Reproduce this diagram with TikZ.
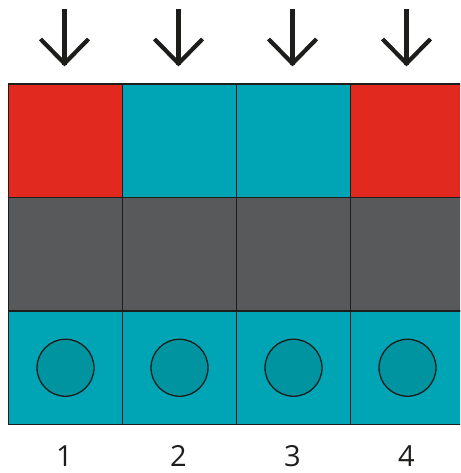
\documentclass[tikz,border=0pt]{standalone}
\usepackage{fontspec}
\setmainfont{Open Sans}
\definecolor{cred}{HTML}{E2291F}
\definecolor{cteal}{HTML}{00A5B5}
\definecolor{cgrey}{HTML}{58595B}
\definecolor{cdot}{HTML}{0093A0}
\definecolor{cline}{HTML}{1D1D1B}
\tikzset{
  cell/.style={draw=cline, line width=1.3pt, minimum width=114pt, minimum height=113.5pt, inner sep=0pt, outer sep=0pt},
  dot/.style={circle, draw=cline, fill=cdot, line width=1.3pt, minimum size=57pt, inner sep=0pt},
  arr/.style={draw=cline, line width=4.2pt},
  lab/.style={font=\fontsize{29}{30}\selectfont\addfontfeatures{Color=1D1D1B}, text=cline, inner sep=0pt}
}
\begin{document}
\begin{tikzpicture}[x=1pt,y=-1pt]
\useasboundingbox (0,0) rectangle (460,473);
\begin{scope}
\clip (0,0) rectangle (460,473);
\foreach \i/\c in {1/cred,2/cteal,3/cteal,4/cred}{
  \node[cell, fill=\c] (t\i) at ({8.5+114*(\i-1)+57}, 140.75) {};
  \node[cell, fill=cgrey] (m\i) at ({8.5+114*(\i-1)+57}, 254.25) {};
  \node[cell, fill=cteal] (b\i) at ({8.5+114*(\i-1)+57}, 367.75) {};
  \node[dot] (d\i) at (b\i.center) {};
  \coordinate (s\i) at ({8.5+114*(\i-1)+56}, 9);
  \coordinate (e\i) at ({8.5+114*(\i-1)+56}, 65);
  \draw[arr] (s\i) -- (e\i);
  \draw[arr, line join=miter] ([shift={(-24,-26)}]e\i) -- ([shift={(0,-1.5)}]e\i) -- ([shift={(24,-26)}]e\i);
  \node[lab] (n\i) at ({8.5+114*(\i-1)+56}, 456) {\i};
}
\end{scope}
\end{tikzpicture}
\end{document}
